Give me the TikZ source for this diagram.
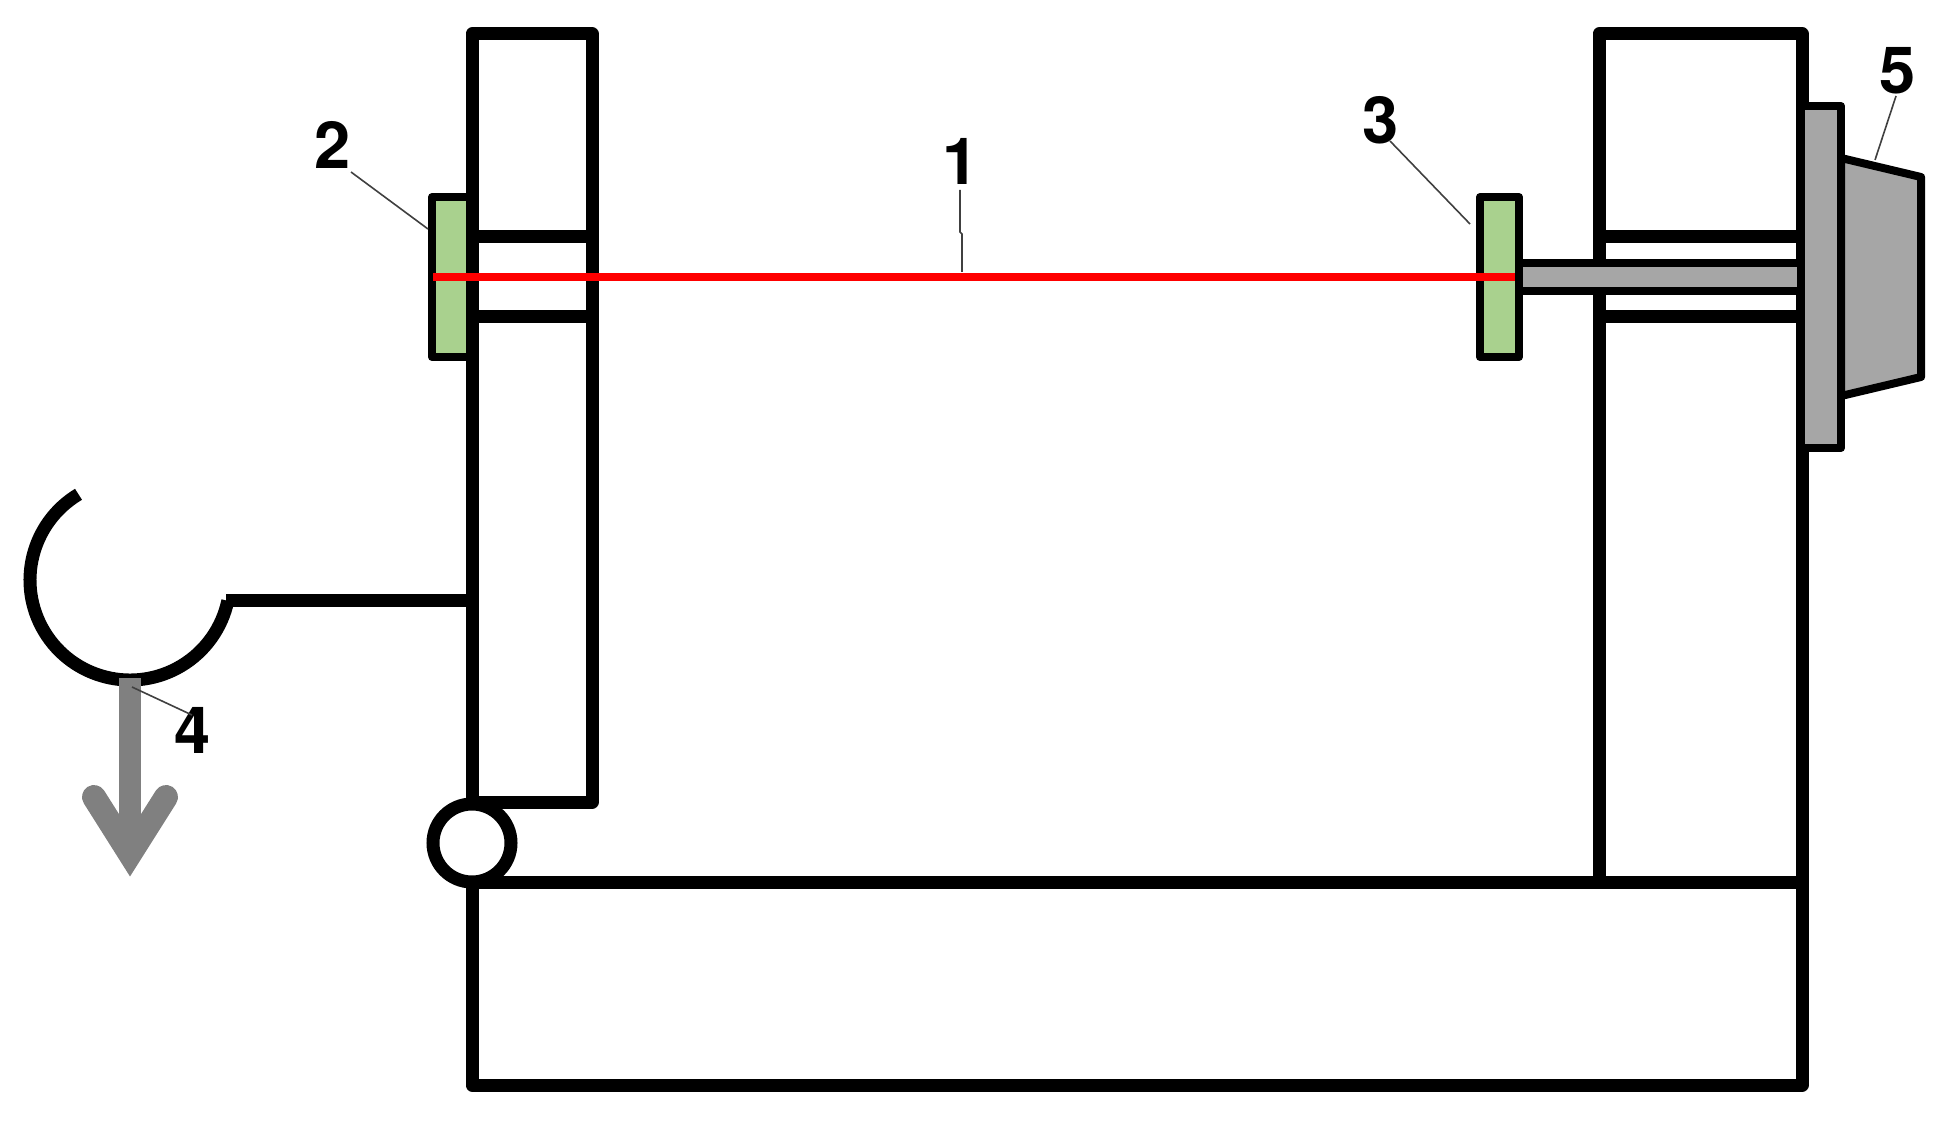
\documentclass[tikz,border=0pt]{standalone}
\usepackage{fontspec}
\setmainfont{TeX Gyre Heros}
\begin{document}
\begin{tikzpicture}[x=1pt,y=-1pt,
  frameline/.style={draw=black,line width=13pt,line join=round},
  thinbox/.style={draw=black,line width=8pt,line join=round},
  leaderline/.style={draw=black!75,line width=1.6pt},
  numlabel/.style={font=\fontsize{65}{65}\selectfont\bfseries,inner sep=0pt,text=black},
  grayfill/.style={fill=metalgray},
  greenfill/.style={fill=platgreen}]
\definecolor{metalgray}{HTML}{A6A6A6}
\definecolor{platgreen}{HTML}{A9D18E}
\definecolor{pullgray}{HTML}{808080}
\useasboundingbox (0,0) rectangle (1949,1123);
\fill[white] (0,0) rectangle (1949,1123);
% left plate, under the column
\draw[thinbox,greenfill] (472,197) -- (432,197) -- (432,357) -- (472,357);
% base
\draw[frameline] (472,882) rectangle (1802,1085);
% left column
\draw[frameline] (472,843) -- (472,34) -- (592,34) -- (592,802) -- (472,802);
\draw[frameline] (472,237) -- (592,237);
\draw[frameline] (472,317) -- (592,317);
% right column
\draw[frameline] (1599,882) -- (1599,34) -- (1802,34) -- (1802,882);
\draw[frameline] (1599,237) -- (1802,237);
\draw[frameline] (1599,317) -- (1802,317);
% pivot
\node[circle,draw=black,fill=white,line width=13pt,minimum size=78pt,inner sep=0pt] (pivot) at (472,843) {};
% shaft and right plate
\draw[thinbox,grayfill] (1519,263) rectangle (1802,291);
\draw[thinbox,greenfill] (1480,197) rectangle (1519,357);
% screw
\draw[thinbox,grayfill] (1841,158) -- (1921,177) -- (1921,377) -- (1841,396) -- cycle;
\draw[thinbox,grayfill] (1801,106) rectangle (1841,448);
% red wire
\coordinate (wireL) at (433,277);
\coordinate (wireR) at (1515,277);
\draw[red,line width=8pt] (wireL) -- (wireR);
% hook
\coordinate (armL) at (226,600);
\coordinate (armR) at (472,600);
\draw[frameline] (armR) -- (armL);
\draw[frameline,line cap=butt] (78.5,494.3) arc[start angle=239,end angle=12,radius=100];
% pull arrow
\coordinate (pullTop) at (130,678);
\coordinate (pullTip) at (130,854);
\draw[pullgray,line width=22pt] (pullTop) -- (pullTip);
\draw[pullgray,line width=24pt,line cap=round,line join=miter,miter limit=10] (94,797) -- (pullTip) -- (166,797);
% labels
\node[numlabel] (n1) at (961,161) {1};
\node[numlabel] (n2) at (333,145) {2};
\node[numlabel] (n3) at (1381,120) {3};
\node[numlabel] (n4) at (193,730) {4};
\node[numlabel] (n5) at (1898,71) {5};
\coordinate (a1) at (960,190);
\coordinate (b1) at (960,232);
\coordinate (d1) at (962,234);
\coordinate (c1) at (962,272);
\draw[leaderline] (a1) -- (b1) -- (d1) -- (c1);
\coordinate (a2) at (351,172);
\coordinate (c2) at (428,229);
\draw[leaderline] (a2) -- (c2);
\coordinate (a3) at (1390,141);
\coordinate (c3) at (1470,224);
\draw[leaderline] (a3) -- (c3);
\coordinate (a4) at (132,687);
\coordinate (c4) at (192,715);
\draw[leaderline] (a4) -- (c4);
\coordinate (a5) at (1896,96);
\coordinate (c5) at (1875,160);
\draw[leaderline] (a5) -- (c5);
\end{tikzpicture}
\end{document}
